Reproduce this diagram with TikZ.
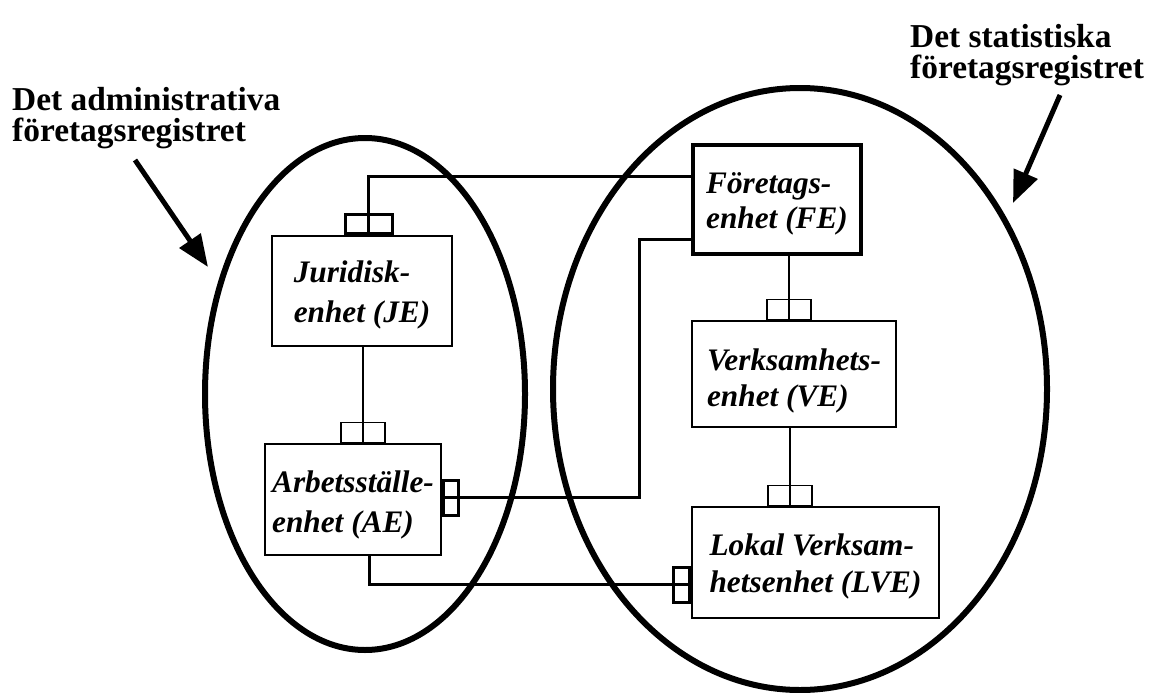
\documentclass[tikz,border=0pt]{standalone}
\usepackage{fontspec}
\setmainfont{Liberation Serif}
\usetikzlibrary{shapes.geometric,arrows.meta}
\begin{document}
\begin{tikzpicture}[x=1pt,y=-1pt,
  register/.style={draw, ellipse, line width=6pt, inner sep=0pt},
  unitbox/.style={draw, line width=1.3pt, inner sep=0pt, align=left,
    font=\fontsize{31.3}{40}\selectfont\bfseries\itshape},
  heavybox/.style={unitbox, line width=3.5pt},
  port/.style={draw, line width=1.3pt, inner sep=0pt, minimum width=44pt, minimum height=20pt},
  heavyport/.style={port, line width=3pt},
  thinlink/.style={line width=1.3pt},
  thicklink/.style={line width=3pt},
  heading/.style={inner sep=0pt, align=left, anchor=north west,
    font=\fontsize{33.4}{31.5}\selectfont\bfseries},
  pointer/.style={line width=5pt, -{Triangle[length=32pt,width=25pt]}}]
\useasboundingbox[fill=white] (0,0) rectangle (1164,693);

% registers
\node[register, minimum width=320pt, minimum height=512pt] (adm) at (365,394) {};
\node[register, minimum width=494pt, minimum height=602pt] (stat) at (800,389) {};

% headings and pointers
\node[heading] (hadm) at (12,87) {Det administrativa\\företagsregistret};
\node[heading] (hstat) at (910,24) {Det statistiska\\företagsregistret};
\coordinate (aL) at (135,160);
\coordinate (tipL) at (208,267);
\coordinate (aR) at (1060,95);
\coordinate (tipR) at (1013,203);
\draw[pointer] (aL) -- (tipL);
\draw[pointer] (aR) -- (tipR);

% unit boxes
\node[unitbox, minimum width=180pt, minimum height=110pt] (JE) at (362,291) {\rule{0pt}{29.5pt}Juridisk-\\enhet (JE)};
\node[unitbox, minimum width=176pt, minimum height=111pt] (AE) at (353,499.5) {\rule{0pt}{32pt}Arbetsställe-\\enhet (AE)};
\node[heavybox, minimum width=168pt, minimum height=109pt, font=\fontsize{31.3}{35}\selectfont\bfseries\itshape] (FE) at (777,199.5) {\rule{0pt}{30pt}Företags-\\enhet (FE)};
\node[unitbox, minimum width=204pt, minimum height=106pt, font=\fontsize{31.3}{36}\selectfont\bfseries\itshape] (VE) at (794,374) {\rule{0pt}{35pt}Verksamhets-\\enhet (VE)};
\node[unitbox, minimum width=247pt, minimum height=111pt, font=\fontsize{31.3}{37}\selectfont\bfseries\itshape] (LVE) at (815.5,562.5) {\rule{0pt}{30pt}Lokal Verksam-\\hetsenhet (LVE)};

% ports
\node[heavyport, minimum width=47pt, minimum height=19pt, anchor=south] (pJE) at ([xshift=6.5pt]JE.north) {};
\node[port, anchor=south] (pAEt) at ([xshift=10pt]AE.north) {};
\node[heavyport, minimum width=15pt, minimum height=35pt, anchor=west] (pAEr) at ([yshift=2pt]AE.east) {};
\node[port, anchor=south] (pVE) at ([xshift=-5pt]VE.north) {};
\node[port, anchor=south] (pLVEt) at ([xshift=-25.5pt]LVE.north) {};
\node[heavyport, minimum width=16pt, minimum height=35pt, anchor=east] (pLVEl) at ([yshift=-22pt]LVE.west) {};

% links
\draw[thicklink] (pJE.south) |- ([yshift=23.5pt]FE.west);
\draw[thicklink] (pAEr.west) -- ++(198,0) |- ([yshift=-39.5pt]FE.west);
\draw[thicklink] ([xshift=16pt]AE.south) |- (pLVEl.east);
\draw[thinlink] (JE.south -| pAEt) -- (pAEt.south);
\draw[thinlink] (FE.south -| pVE) -- (pVE.south);
\draw[thinlink] (VE.south -| pLVEt) -- (pLVEt.south);
\end{tikzpicture}
\end{document}
